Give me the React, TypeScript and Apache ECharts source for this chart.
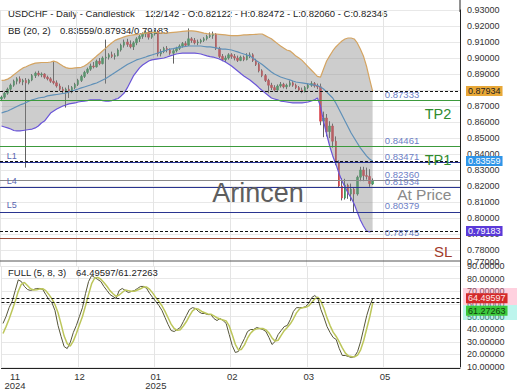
import React, { useEffect, useRef } from 'react';
import * as echarts from 'echarts';

const FONT = "'Liberation Sans', Arial, sans-serif";

// ---- data ----
const startDate = '2024-11-08';
const totalSlots = 150;
const labelEvery = 25;

// [open, high, low, close]
const candles: number[][] = [
  [0.8745,0.8765,0.8730,0.8755],[0.8755,0.8790,0.8745,0.8780],[0.8780,0.8815,0.8770,0.8805],[0.8805,0.8840,0.8795,0.8830],
  [0.8830,0.8865,0.8820,0.8855],[0.8855,0.8880,0.8835,0.8870],[0.8870,0.8885,0.8840,0.8850],[0.8850,0.8870,0.8830,0.8860],
  [0.8860,0.8875,0.8315,0.8845],[0.8845,0.8870,0.8835,0.8862],[0.8862,0.8900,0.8855,0.8890],[0.8890,0.8915,0.8875,0.8905],
  [0.8905,0.8920,0.8885,0.8895],[0.8895,0.8910,0.8880,0.8900],[0.8900,0.8905,0.8870,0.8880],[0.8880,0.8890,0.8860,0.8870],
  [0.8870,0.8880,0.8845,0.8855],[0.8855,0.8980,0.8835,0.8845],[0.8845,0.8860,0.8815,0.8825],[0.8825,0.8840,0.8795,0.8805],
  [0.8805,0.8820,0.8780,0.8795],[0.8795,0.8815,0.8690,0.8805],[0.8805,0.8830,0.8750,0.8790],[0.8790,0.8825,0.8780,0.8815],
  [0.8815,0.8845,0.8805,0.8835],[0.8835,0.8870,0.8825,0.8860],[0.8860,0.8895,0.8850,0.8885],[0.8885,0.8920,0.8875,0.8910],
  [0.8910,0.8940,0.8900,0.8930],[0.8930,0.8965,0.8920,0.8950],[0.8950,0.8975,0.8935,0.8945],[0.8945,0.8990,0.8940,0.8980],
  [0.8980,0.9000,0.8955,0.8965],[0.8965,0.9010,0.8960,0.9000],[0.9000,0.9115,0.8840,0.9005],[0.9005,0.9030,0.8990,0.9020],
  [0.9020,0.9040,0.9000,0.9010],[0.9010,0.9030,0.8990,0.9015],[0.9015,0.9060,0.9010,0.9050],[0.9050,0.9090,0.9040,0.9080],
  [0.9080,0.9115,0.9065,0.9100],[0.9100,0.9120,0.9070,0.9085],[0.9085,0.9110,0.9060,0.9070],[0.9070,0.9105,0.9050,0.9095],
  [0.9095,0.9130,0.9080,0.9120],[0.9120,0.9145,0.9100,0.9135],[0.9135,0.9160,0.9120,0.9150],[0.9150,0.9170,0.9130,0.9160],
  [0.9160,0.9165,0.9115,0.9130],[0.9130,0.9160,0.9120,0.9150],[0.9150,0.9175,0.9140,0.9165],[0.9165,0.9175,0.9010,0.9025],
  [0.9025,0.9055,0.9010,0.9040],[0.9040,0.9070,0.9030,0.9060],[0.9060,0.9075,0.9035,0.9050],[0.9050,0.9060,0.9020,0.9030],
  [0.9030,0.9055,0.8965,0.9045],[0.9045,0.9070,0.9035,0.9060],[0.9060,0.9085,0.9050,0.9075],[0.9075,0.9100,0.9065,0.9090],
  [0.9090,0.9105,0.9070,0.9080],[0.9080,0.9185,0.9075,0.9120],[0.9120,0.9130,0.9095,0.9110],[0.9110,0.9125,0.9085,0.9095],
  [0.9095,0.9115,0.9080,0.9100],[0.9100,0.9120,0.9090,0.9110],[0.9110,0.9130,0.9100,0.9120],[0.9120,0.9145,0.9110,0.9135],
  [0.9135,0.9160,0.9125,0.9140],[0.9140,0.9165,0.9120,0.9150],[0.9150,0.9155,0.9050,0.9060],[0.9060,0.9070,0.9000,0.9010],
  [0.9010,0.9025,0.8980,0.8990],[0.8990,0.9015,0.8975,0.9000],[0.9000,0.9030,0.8990,0.9020],[0.9020,0.9030,0.8995,0.9010],
  [0.9010,0.9025,0.8985,0.9000],[0.9000,0.9015,0.8975,0.8985],[0.8985,0.9015,0.8980,0.9005],[0.9005,0.9015,0.8980,0.8990],
  [0.8990,0.9030,0.8985,0.9015],[0.9015,0.9035,0.9000,0.9020],[0.9020,0.9030,0.8975,0.8985],[0.8985,0.8995,0.8950,0.8960],
  [0.8960,0.8970,0.8910,0.8920],[0.8920,0.8930,0.8880,0.8890],[0.8890,0.8900,0.8850,0.8860],[0.8860,0.8870,0.8780,0.8830],
  [0.8830,0.8845,0.8800,0.8815],[0.8815,0.8830,0.8790,0.8800],[0.8800,0.8835,0.8795,0.8825],[0.8825,0.8850,0.8815,0.8835],
  [0.8835,0.8845,0.8810,0.8820],[0.8820,0.8840,0.8805,0.8830],[0.8830,0.8860,0.8820,0.8845],[0.8845,0.8855,0.8820,0.8830],
  [0.8830,0.8840,0.8805,0.8815],[0.8815,0.8825,0.8790,0.8800],[0.8800,0.8815,0.8780,0.8790],[0.8790,0.8825,0.8785,0.8815],
  [0.8815,0.8840,0.8805,0.8830],[0.8830,0.8855,0.8820,0.8840],[0.8840,0.8850,0.8815,0.8825],[0.8825,0.8840,0.8805,0.8820],
  [0.8820,0.8840,0.8580,0.8605],[0.8605,0.8665,0.8505,0.8625],[0.8625,0.8650,0.8510,0.8540],[0.8540,0.8605,0.8500,0.8575],
  [0.8575,0.8590,0.8440,0.8480],[0.8480,0.8510,0.8330,0.8345],[0.8345,0.8360,0.8190,0.8200],[0.8200,0.8250,0.8110,0.8125],
  [0.8125,0.8245,0.8115,0.8205],[0.8205,0.8215,0.8120,0.8150],[0.8150,0.8215,0.8105,0.8180],[0.8180,0.8190,0.8035,0.8150],
  [0.8150,0.8265,0.8140,0.8255],[0.8255,0.8320,0.8230,0.8300],[0.8300,0.8320,0.8230,0.8265],[0.8265,0.8315,0.8240,0.8260],
  [0.8260,0.8305,0.8195,0.8215],[0.82122,0.82472,0.82060,0.82346],
];

const bbUpper = [
  0.8860,0.8862,0.8868,0.8880,0.8895,0.8910,0.8925,0.8938,0.8945,0.8955,
  0.8962,0.8968,0.8970,0.8972,0.8972,0.8972,0.8975,0.8980,0.8975,0.8962,
  0.8950,0.8940,0.8935,0.8935,0.8938,0.8940,0.8942,0.8950,0.8962,0.8978,
  0.8995,0.9012,0.9028,0.9045,0.9062,0.9080,0.9095,0.9110,0.9118,0.9125,
  0.9132,0.9138,0.9142,0.9145,0.9148,0.9150,0.9152,0.9155,0.9157,0.9160,
  0.9160,0.9158,0.9155,0.9155,0.9156,0.9158,0.9160,0.9162,0.9164,0.9166,
  0.9168,0.9170,0.9170,0.9168,0.9165,0.9160,0.9155,0.9152,0.9150,0.9150,
  0.9150,0.9148,0.9146,0.9144,0.9142,0.9140,0.9140,0.9140,0.9142,0.9144,
  0.9145,0.9146,0.9147,0.9148,0.9150,0.9150,0.9140,0.9130,0.9120,0.9105,
  0.9090,0.9075,0.9062,0.9050,0.9045,0.9030,0.9012,0.9000,0.8985,0.8965,
  0.8945,0.8925,0.8905,0.8885,0.8880,0.8931,0.8981,0.9013,0.9044,0.9069,
  0.9088,0.9106,0.9119,0.9125,0.9125,0.9119,0.9094,0.9056,0.9013,0.8950,
  0.8869,0.87934,
];
const bbMiddle = [
  0.8656,0.8663,0.8669,0.8678,0.8688,0.8697,0.8706,0.8713,0.8722,0.8731,
  0.8738,0.8744,0.8750,0.8753,0.8756,0.8763,0.8766,0.8769,0.8772,0.8775,
  0.8778,0.8781,0.8788,0.8794,0.8800,0.8806,0.8813,0.8819,0.8825,0.8831,
  0.8838,0.8844,0.8853,0.8863,0.8872,0.8884,0.8897,0.8909,0.8922,0.8934,
  0.8947,0.8959,0.8969,0.8978,0.8988,0.8994,0.9000,0.9006,0.9013,0.9019,
  0.9025,0.9031,0.9038,0.9044,0.9050,0.9056,0.9059,0.9063,0.9066,0.9069,
  0.9072,0.9075,0.9075,0.9075,0.9075,0.9075,0.9072,0.9069,0.9069,0.9066,
  0.9063,0.9059,0.9056,0.9056,0.9053,0.9050,0.9044,0.9038,0.9031,0.9025,
  0.9019,0.9013,0.9000,0.8984,0.8972,0.8959,0.8944,0.8928,0.8913,0.8900,
  0.8891,0.8881,0.8875,0.8869,0.8863,0.8856,0.8850,0.8847,0.8844,0.8841,
  0.8838,0.8834,0.8831,0.8828,0.8819,0.8806,0.8788,0.8769,0.8750,0.8719,
  0.8681,0.8644,0.8606,0.8569,0.8531,0.8500,0.8469,0.8438,0.8413,0.8388,
  0.8369,0.83559,
];
const bbLower = [
  0.8575,0.8569,0.8563,0.8556,0.8547,0.8544,0.8544,0.8547,0.8550,0.8553,
  0.8556,0.8563,0.8575,0.8594,0.8606,0.8631,0.8656,0.8669,0.8681,0.8691,
  0.8700,0.8706,0.8713,0.8716,0.8719,0.8725,0.8728,0.8731,0.8734,0.8738,
  0.8738,0.8738,0.8738,0.8734,0.8731,0.8731,0.8734,0.8741,0.8747,0.8763,
  0.8781,0.8813,0.8850,0.8888,0.8913,0.8938,0.8956,0.8969,0.8981,0.8988,
  0.8991,0.8994,0.8997,0.9000,0.9006,0.9013,0.9019,0.9025,0.9028,0.9031,
  0.9031,0.9031,0.9031,0.9031,0.9028,0.9025,0.9019,0.9013,0.9009,0.9006,
  0.9000,0.8994,0.8984,0.8975,0.8963,0.8950,0.8934,0.8919,0.8903,0.8888,
  0.8875,0.8863,0.8847,0.8831,0.8813,0.8797,0.8781,0.8766,0.8750,0.8744,
  0.8738,0.8731,0.8728,0.8725,0.8722,0.8719,0.8719,0.8719,0.8719,0.8722,
  0.8725,0.8731,0.8738,0.8750,0.8700,0.8606,0.8525,0.8450,0.8388,0.8338,
  0.8281,0.8231,0.8194,0.8156,0.8125,0.8088,0.8038,0.7988,0.7950,0.7919,
  0.7913,0.79183,
];

const stochK = [
  44.5,50,57,62,70.6,79,77.7,73.8,71.4,70.6,
  71.4,72.2,72.2,71.4,67.4,63.5,61,54.8,42.9,34.2,
  26.2,24.6,29.4,37.3,42.9,50,57,68.2,77.7,82.5,
  80.9,79.3,77.7,73.8,70.6,67.4,65.8,64.3,70.6,72.2,
  70.6,69,69.8,70.6,72.2,73.8,73.8,72.2,68.2,65,
  61.9,58.7,54.8,49.2,43.7,38.9,38.1,39.7,41.3,46,
  50.8,55.5,57,56.3,53.9,52.4,52.4,51.5,51.5,48.4,
  46.8,48.4,46.8,44.5,35.7,27,21.5,22.3,27.8,32.6,
  38.1,39.7,39.7,41.3,40.5,39.7,38.1,33.4,27.8,30.2,
  35.7,38.9,42,42.9,47.6,54,57,57,57,57.9,
  60.3,65,66.6,64.3,55.5,49.2,42,37.3,33.4,31.8,
  24.6,19.1,19.1,18.3,17.5,18.3,22.3,30.2,40.5,50.8,
  58.7,64.49597,
];
const stochD = [
  36.5,42,48,55,62,70,75.5,77,74.5,72,
  71,71.2,71.8,72,70.5,67.5,64,59.5,53,44,
  34.5,28.5,26.5,30.5,36.5,43.5,50,58.5,67.5,76,
  80.5,81,79.5,77,74,70.5,68,66,67,69,
  71,70.5,70,70,71,72,73.3,73.3,71.5,68.5,
  65,62,58.5,54,49,44,40.5,39,39.5,42.5,
  46,50.5,54.5,56.3,55.7,54,53,52,51.8,50.5,
  49,48,47.3,46.5,42.5,35.5,28,23.6,23.9,27.5,
  32.8,36.8,39.2,40.2,40.5,40.5,39.4,37,33,30.5,
  31.2,35,38.8,41.3,44.2,48.2,52.9,56,57,57.3,
  58.4,61,64,65.3,62,56.3,48.9,42.8,37.6,34.2,
  29.9,25.2,21,18.8,18.3,18,19.4,23.6,31,40.5,
  50,61.27263,
];

// price levels drawn on the chart
const levelValues = [0.87333, 0.84461, 0.83471, 0.8236, 0.81934, 0.80379, 0.78745];
const levelColors = ['#3c9a3c', '#3c9a3c', '#2a3590', '#8a8a8a', '#2a3590', '#2a3590', '#9a4a38'];
const rightTags = [
  { text: 'TP2', level: 0.87333, color: '#2e8b2e', size: 14.5, dy: 13.5, idx: 138 },
  { text: 'TP1', level: 0.84461, color: '#2e8b2e', size: 14.5, dy: 13.5, idx: 138 },
  { text: 'At Price', level: 0.81934, color: '#8a8a8a', size: 15.5, dy: 7.5, idx: 129 },
  { text: 'SL', level: 0.78745, color: '#a03a2a', size: 15, dy: 13.5, idx: 141 },
];
const leftTags = [
  { text: 'L1', level: 0.83471 },
  { text: 'L4', level: 0.81934 },
  { text: 'L5', level: 0.80379 },
];

function tradingDays(start: string, n: number): string[] {
  const out: string[] = [];
  const d = new Date(start + 'T00:00:00Z');
  while (out.length < n) {
    const wd = d.getUTCDay();
    if (wd !== 0 && wd !== 6) out.push(d.toISOString().slice(0, 10));
    d.setUTCDate(d.getUTCDate() + 1);
  }
  return out;
}

const categories = tradingDays(startDate, totalSlots);

export default function App() {
  const ref = useRef<HTMLDivElement>(null);
  useEffect(() => {
    if (!ref.current) return;
    const chart = echarts.init(ref.current, undefined, { renderer: 'svg' });
    const last = candles.length - 1;
    const up = '#3a9d5d';
    const down = '#d9434b';
    const bbU = bbUpper[last], bbM = bbMiddle[last], bbL = bbLower[last];
    const lastClose = candles[last][3];
    const kLast = stochK[last], dLast = stochD[last];

    const splitInterval = (i: number) => i % labelEvery === 0;

    const boxLabel = (text: string, bg: string, fg: string) => ({
      show: true, position: 'end', distance: 6, formatter: text,
      backgroundColor: bg, color: fg, padding: [1, 2, 0, 2], fontSize: 9, fontFamily: FONT,
    });
    const dashed = { color: '#111', type: [3, 2], width: 1 };

    const option: any = {
      animation: false,
      backgroundColor: '#ffffff',
      textStyle: { fontFamily: FONT },
      grid: [
        { left: 0, right: 60, top: 10, height: 256 },
        { left: 0, right: 60, top: 266, height: 101 },
      ],
      xAxis: [
        {
          type: 'category', gridIndex: 0, data: categories, boundaryGap: true,
          axisLine: { show: false }, axisTick: { show: false }, axisLabel: { show: false },
          splitLine: { show: true, interval: splitInterval, lineStyle: { color: '#e4e4e4' } },
        },
        {
          type: 'category', gridIndex: 1, data: categories, boundaryGap: true, offset: 1.5,
          axisLine: { show: true, lineStyle: { color: '#222', width: 1 } },
          axisTick: { show: false },
          axisLabel: {
            interval: splitInterval, fontSize: 9.5, lineHeight: 9, color: '#333', margin: 3,
            alignMinLabel: 'left',
            formatter: (v: string, i: number) => {
              const [y, m] = v.split('-');
              if (i === 0) return `{c|${m}}\n{c|${y}}`;
              return m === '01' ? `${m}\n${y}` : m;
            },
            rich: { c: { width: 24, align: 'center', fontSize: 9.5, lineHeight: 9, color: '#333' } },
          },
          splitLine: { show: true, interval: splitInterval, lineStyle: { color: '#e4e4e4' } },
        },
      ],
      yAxis: [
        {
          type: 'value', gridIndex: 0, position: 'right', min: 0.77, max: 0.93, interval: 0.01,
          axisLine: { show: true, lineStyle: { color: '#222' } }, axisTick: { show: false },
          axisLabel: { formatter: (v: number) => v.toFixed(5), fontSize: 9, color: '#333', margin: 7, verticalAlignMinLabel: 'bottom' },
          splitLine: { lineStyle: { color: '#e8e8e8' } },
        },
        {
          type: 'value', gridIndex: 1, position: 'right', min: 10, max: 90, interval: 10,
          axisLine: { show: true, lineStyle: { color: '#222' } }, axisTick: { show: false },
          axisLabel: { formatter: (v: number) => v.toFixed(5), fontSize: 9, color: '#333', margin: 7 },
          splitLine: { lineStyle: { color: '#e8e8e8' } },
        },
      ],
      series: [
        {
          type: 'line', name: 'bbBase', data: bbLower, stack: 'bb', symbol: 'none', silent: true,
          lineStyle: { opacity: 0 },
        },
        {
          type: 'line', name: 'bbFill', data: bbUpper.map((u, i) => +(u - bbLower[i]).toFixed(6)),
          stack: 'bb', symbol: 'none', silent: true,
          lineStyle: { opacity: 0 }, areaStyle: { color: 'rgba(135,135,135,0.6)' },
        },
        { type: 'line', name: 'upper', data: bbUpper, symbol: 'none', lineStyle: { color: '#d4a462', width: 1.2 } },
        { type: 'line', name: 'lower', data: bbLower, symbol: 'none', lineStyle: { color: '#6a55d8', width: 1.2 } },
        { type: 'line', name: 'middle', data: bbMiddle, symbol: 'none', lineStyle: { color: '#5f90b8', width: 1.2 } },
        {
          type: 'candlestick', name: 'wicks', barWidth: 1,
          data: candles.map(([o, h, l, c]) => [o, c, l, h]),
          itemStyle: { color: '#3a3a3a', color0: '#3a3a3a', borderColor: '#3a3a3a', borderColor0: '#3a3a3a', borderWidth: 0.8 },
        },
        {
          type: 'candlestick', name: 'bodies', barWidth: 2,
          data: candles.map(([o, , , c]) => [o, c, Math.min(o, c), Math.max(o, c)]),
          itemStyle: { color: up, color0: down, borderColor: up, borderColor0: down, borderWidth: 0.6 },
        },
        {
          type: 'line', name: 'levels', data: [], symbol: 'none',
          markLine: {
            silent: true, symbol: ['none', 'none'], animation: false, precision: 6,
            data: [
              ...levelValues.map((v, i) => ({
                yAxis: v, label: { show: false },
                lineStyle: { color: levelColors[i], type: 'solid', width: 1 },
              })),
              { yAxis: bbU, lineStyle: dashed, label: boxLabel(bbU.toFixed(5), '#e8a838', '#222') },
              { yAxis: bbM, lineStyle: dashed, label: boxLabel(bbM.toFixed(5), '#2f95e8', '#fff') },
              { yAxis: bbL, lineStyle: dashed, label: boxLabel(bbL.toFixed(5), '#5a3ad8', '#fff') },
              { yAxis: lastClose, lineStyle: { opacity: 0, width: 0 }, label: boxLabel(lastClose.toFixed(5), '#25a37c', '#fff') },
            ],
          },
          markPoint: {
            silent: true, animation: false,
            data: [
              ...levelValues.map((v) => ({
                coord: [categories[125], v], symbol: 'circle', symbolSize: 0,
                label: {
                  show: true, formatter: v.toFixed(5), position: 'inside', align: 'left', verticalAlign: 'bottom',
                  offset: [0, -1], color: '#6d80c6', fontSize: 9.5, fontFamily: FONT,
                },
              })),
              ...rightTags.map((t) => ({
                coord: [categories[t.idx], t.level], symbol: 'circle', symbolSize: 0,
                label: {
                  show: true, formatter: t.text, position: 'inside', align: 'left', verticalAlign: 'middle',
                  offset: [0, t.dy], color: t.color, fontSize: t.size, fontFamily: FONT,
                },
              })),
              ...leftTags.map((t) => ({
                coord: [categories[2], t.level], symbol: 'circle', symbolSize: 0,
                label: {
                  show: true, formatter: t.text, position: 'inside', align: 'left', verticalAlign: 'bottom',
                  offset: [-1, -2], color: '#5a66b0', fontSize: 9, fontFamily: FONT,
                },
              })),
            ],
          },
        },
        {
          type: 'line', name: 'K', xAxisIndex: 1, yAxisIndex: 1, data: stochK, symbol: 'none',
          lineStyle: { color: '#55553a', width: 1 },
        },
        {
          type: 'line', name: 'D', xAxisIndex: 1, yAxisIndex: 1, data: stochD, symbol: 'none',
          lineStyle: { color: '#bcc65a', width: 1.5 },
          markLine: {
            silent: true, symbol: ['none', 'none'], animation: false, precision: 6,
            data: [
              { yAxis: kLast, lineStyle: dashed, label: boxLabel(kLast.toFixed(5), '#d42a2a', '#ffe8e8') },
              {
                yAxis: dLast, lineStyle: dashed,
                label: {
                  show: true, position: 'end', distance: 6, formatter: `{a|${dLast.toFixed(5)}}`,
                  padding: [17, 0, 0, 0],
                  rich: { a: { backgroundColor: '#3cc83c', color: '#0d3d0d', padding: [1, 2, 0, 2], fontSize: 9, fontFamily: FONT } },
                },
              },
            ],
          },
        },
      ],
      graphic: [
        { type: 'rect', z: 1, shape: { x: 463, y: 288, width: 54, height: 17 }, style: { fill: 'rgba(255,140,175,0.4)' } },
        { type: 'rect', z: 1, shape: { x: 463, y: 305, width: 54, height: 15 }, style: { fill: 'rgba(90,230,210,0.4)' } },
        { type: 'text', x: 8, y: 13, style: { text: 'USDCHF - Daily - Candlestick', fontSize: 9.5, fontFamily: FONT, fill: '#222', verticalAlign: 'middle' } },
        { type: 'text', x: 145, y: 13, style: { text: '122/142 - O:0.82122 - H:0.82472 - L:0.82060 - C:0.82346', fontSize: 9.5, fontFamily: FONT, fill: '#222', verticalAlign: 'middle' } },
        { type: 'text', x: 8, y: 30, style: { text: 'BB (20, 2)', fontSize: 9.5, fontFamily: FONT, fill: '#222', verticalAlign: 'middle' } },
        { type: 'text', x: 60, y: 30, style: { text: '0.83559/0.87934/0.79183', fontSize: 9.5, fontFamily: FONT, fill: '#222', verticalAlign: 'middle' } },
        { type: 'text', x: 8, y: 272.5, z: 10, style: { text: 'FULL (5, 8, 3)', fontSize: 9.5, fontFamily: FONT, fill: '#222', verticalAlign: 'middle' } },
        { type: 'text', x: 76, y: 272.5, z: 10, style: { text: '64.49597/61.27263', fontSize: 9.5, fontFamily: FONT, fill: '#222', verticalAlign: 'middle' } },
        { type: 'text', x: 258, y: 193, z: 10, style: { text: 'Arincen', fontSize: 27, fontFamily: FONT, fill: '#5e5e5e', align: 'center', verticalAlign: 'middle' } },
        { type: 'line', z: 10, shape: { x1: 0, y1: 261, x2: 460, y2: 261 }, style: { stroke: '#555', lineWidth: 1 } },
        { type: 'line', z: 10, shape: { x1: 460, y1: 0, x2: 460, y2: 12 }, style: { stroke: '#222', lineWidth: 1 } },
      ],
    };
    chart.setOption(option);
    return () => chart.dispose();
  }, []);
  return <div ref={ref} style={{ position: 'absolute', left: 0, top: 0, width: 520, height: 390 }} />;
}
